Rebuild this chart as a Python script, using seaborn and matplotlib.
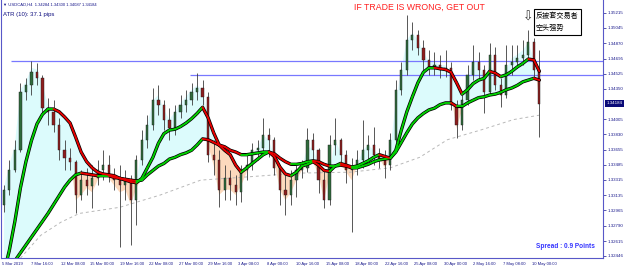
import numpy as np
import pandas as pd
import matplotlib
matplotlib.use("Agg")
import matplotlib.pyplot as plt
import matplotlib.transforms as mtransforms
from matplotlib.collections import LineCollection
from matplotlib.patches import Rectangle
import seaborn as sns

# ---------------- data (USDCAD H4, one candle per 3 H4 bars) ----------------
opens = [1.3303, 1.3320, 1.3342, 1.3365, 1.3431, 1.3439, 1.3454, 1.3447, 1.3413, 1.3409,
         1.3394, 1.3365, 1.3356, 1.3352, 1.3314, 1.3331, 1.3324, 1.3333, 1.3342, 1.3348,
         1.3337, 1.3331, 1.3325, 1.3331, 1.3308, 1.3354, 1.3377, 1.3394, 1.3422, 1.3417,
         1.3400, 1.3390, 1.3409, 1.3417, 1.3422, 1.3431, 1.3436, 1.3426, 1.3360, 1.3354,
         1.3320, 1.3333, 1.3325, 1.3317, 1.3342, 1.3348, 1.3365, 1.3368, 1.3382, 1.3377,
         1.3345, 1.3320, 1.3314, 1.3331, 1.3342, 1.3345, 1.3377, 1.3365, 1.3331, 1.3308,
         1.3371, 1.3377, 1.3360, 1.3342, 1.3345, 1.3354, 1.3365, 1.3371, 1.3360, 1.3354,
         1.3348, 1.3377, 1.3434, 1.3457, 1.3491, 1.3496, 1.3482, 1.3468, 1.3459, 1.3462,
         1.3457, 1.3459, 1.3417, 1.3394, 1.3422, 1.3451, 1.3466, 1.3457, 1.3431, 1.3474,
         1.3439, 1.3428, 1.3462, 1.3466, 1.3470, 1.3474, 1.3488, 1.3457]
closes = [1.3320, 1.3342, 1.3365, 1.3431, 1.3439, 1.3454, 1.3447, 1.3413, 1.3409, 1.3394,
          1.3365, 1.3356, 1.3352, 1.3314, 1.3331, 1.3324, 1.3333, 1.3342, 1.3348, 1.3337,
          1.3331, 1.3325, 1.3331, 1.3308, 1.3354, 1.3377, 1.3394, 1.3422, 1.3417, 1.3400,
          1.3390, 1.3409, 1.3417, 1.3422, 1.3431, 1.3436, 1.3426, 1.3360, 1.3354, 1.3320,
          1.3333, 1.3325, 1.3317, 1.3342, 1.3348, 1.3365, 1.3368, 1.3382, 1.3377, 1.3345,
          1.3320, 1.3314, 1.3331, 1.3342, 1.3345, 1.3377, 1.3365, 1.3331, 1.3308, 1.3371,
          1.3377, 1.3360, 1.3342, 1.3345, 1.3354, 1.3365, 1.3371, 1.3360, 1.3354, 1.3348,
          1.3377, 1.3434, 1.3457, 1.3491, 1.3496, 1.3482, 1.3468, 1.3459, 1.3462, 1.3457,
          1.3459, 1.3417, 1.3394, 1.3422, 1.3451, 1.3466, 1.3457, 1.3431, 1.3474, 1.3439,
          1.3428, 1.3462, 1.3466, 1.3470, 1.3474, 1.3488, 1.3457, 1.3418]
highs = [1.3325, 1.3354, 1.3377, 1.3442, 1.3447, 1.3467, 1.3464, 1.3451, 1.3425, 1.3422,
         1.3402, 1.3377, 1.3368, 1.3354, 1.3342, 1.3345, 1.3348, 1.3354, 1.3365, 1.3360,
         1.3345, 1.3348, 1.3342, 1.3337, 1.3360, 1.3388, 1.3405, 1.3436, 1.3439, 1.3422,
         1.3413, 1.3417, 1.3428, 1.3434, 1.3442, 1.3453, 1.3445, 1.3431, 1.3377, 1.3365,
         1.3348, 1.3342, 1.3337, 1.3348, 1.3360, 1.3373, 1.3377, 1.3402, 1.3390, 1.3380,
         1.3348, 1.3337, 1.3342, 1.3348, 1.3354, 1.3390, 1.3385, 1.3368, 1.3342, 1.3382,
         1.3402, 1.3379, 1.3365, 1.3356, 1.3365, 1.3400, 1.3382, 1.3392, 1.3368, 1.3365,
         1.3385, 1.3445, 1.3466, 1.3519, 1.3511, 1.3502, 1.3491, 1.3479, 1.3477, 1.3474,
         1.3479, 1.3466, 1.3422, 1.3428, 1.3462, 1.3485, 1.3477, 1.3462, 1.3487, 1.3483,
         1.3447, 1.3485, 1.3485, 1.3485, 1.3491, 1.3502, 1.3493, 1.3479]
lows = [1.3295, 1.3314, 1.3340, 1.3363, 1.3422, 1.3428, 1.3439, 1.3405, 1.3394, 1.3386,
        1.3354, 1.3342, 1.3342, 1.3293, 1.3308, 1.3314, 1.3299, 1.3325, 1.3331, 1.3329,
        1.3320, 1.3255, 1.3308, 1.3257, 1.3280, 1.3348, 1.3368, 1.3388, 1.3405, 1.3388,
        1.3377, 1.3382, 1.3402, 1.3409, 1.3417, 1.3422, 1.3417, 1.3352, 1.3337, 1.3300,
        1.3308, 1.3308, 1.3303, 1.3306, 1.3331, 1.3342, 1.3354, 1.3363, 1.3357, 1.3337,
        1.3303, 1.3291, 1.3303, 1.3312, 1.3333, 1.3340, 1.3354, 1.3316, 1.3299, 1.3303,
        1.3360, 1.3352, 1.3328, 1.3272, 1.3337, 1.3345, 1.3354, 1.3348, 1.3345, 1.3333,
        1.3342, 1.3374, 1.3428, 1.3451, 1.3479, 1.3474, 1.3457, 1.3451, 1.3451, 1.3447,
        1.3449, 1.3411, 1.3379, 1.3388, 1.3417, 1.3445, 1.3445, 1.3407, 1.3428, 1.3434,
        1.3414, 1.3425, 1.3451, 1.3459, 1.3462, 1.3468, 1.3447, 1.3380]
# fastest MA (outer edge of the coloured cloud)
ma_trigger = [1.3322, 1.3348, 1.3371, 1.3434, 1.3443, 1.3459, 1.3457, 1.3439, 1.3417, 1.3405,
              1.3382, 1.3365, 1.3356, 1.3308, 1.3314, 1.3322, 1.3317, 1.3331, 1.3338, 1.3333,
              1.3325, 1.3317, 1.3320, 1.3303, 1.3322, 1.3368, 1.3394, 1.3422, 1.3428, 1.3411,
              1.3400, 1.3409, 1.3419, 1.3426, 1.3434, 1.3439, 1.3434, 1.3371, 1.3348, 1.3314,
              1.3320, 1.3320, 1.3314, 1.3325, 1.3340, 1.3360, 1.3368, 1.3382, 1.3377, 1.3352,
              1.3320, 1.3308, 1.3317, 1.3331, 1.3342, 1.3368, 1.3368, 1.3337, 1.3308, 1.3337,
              1.3377, 1.3363, 1.3340, 1.3331, 1.3348, 1.3365, 1.3371, 1.3365, 1.3356, 1.3345,
              1.3365, 1.3422, 1.3457, 1.3491, 1.3499, 1.3491, 1.3477, 1.3466, 1.3466, 1.3462,
              1.3462, 1.3428, 1.3390, 1.3411, 1.3445, 1.3468, 1.3464, 1.3436, 1.3462, 1.3454,
              1.3434, 1.3457, 1.3470, 1.3474, 1.3479, 1.3488, 1.3468, 1.3422]
ma_fast = [1.3225, 1.3251, 1.3284, 1.3322, 1.3352, 1.3376, 1.3395, 1.3406, 1.3412, 1.3412,
           1.3409, 1.3403, 1.3396, 1.3380, 1.3363, 1.3352, 1.3345, 1.3340, 1.3338, 1.3337,
           1.3336, 1.3333, 1.3331, 1.3329, 1.3328, 1.3333, 1.3345, 1.3357, 1.3373, 1.3384,
           1.3388, 1.3389, 1.3392, 1.3396, 1.3401, 1.3407, 1.3414, 1.3402, 1.3385, 1.3371,
           1.3365, 1.3360, 1.3348, 1.3340, 1.3345, 1.3350, 1.3355, 1.3360, 1.3363, 1.3358,
           1.3346, 1.3338, 1.3336, 1.3340, 1.3347, 1.3349, 1.3352, 1.3348, 1.3342, 1.3341,
           1.3347, 1.3350, 1.3348, 1.3346, 1.3347, 1.3350, 1.3353, 1.3357, 1.3360, 1.3358,
           1.3356, 1.3365, 1.3388, 1.3409, 1.3426, 1.3442, 1.3454, 1.3459, 1.3459, 1.3458,
           1.3457, 1.3454, 1.3442, 1.3429, 1.3434, 1.3441, 1.3445, 1.3447, 1.3455, 1.3453,
           1.3449, 1.3451, 1.3455, 1.3460, 1.3464, 1.3469, 1.3468, 1.3455]
ma_slow = [1.3222, 1.3230, 1.3239, 1.3248, 1.3257, 1.3266, 1.3275, 1.3284, 1.3293, 1.3303,
           1.3313, 1.3323, 1.3331, 1.3337, 1.3339, 1.3338, 1.3337, 1.3336, 1.3336, 1.3336,
           1.3334, 1.3333, 1.3332, 1.3331, 1.3330, 1.3331, 1.3337, 1.3342, 1.3347, 1.3350,
           1.3355, 1.3357, 1.3360, 1.3362, 1.3365, 1.3371, 1.3378, 1.3377, 1.3374, 1.3371,
           1.3369, 1.3365, 1.3363, 1.3360, 1.3360, 1.3361, 1.3362, 1.3363, 1.3363, 1.3361,
           1.3356, 1.3352, 1.3349, 1.3349, 1.3350, 1.3352, 1.3353, 1.3352, 1.3349, 1.3347,
           1.3347, 1.3348, 1.3347, 1.3345, 1.3345, 1.3347, 1.3349, 1.3352, 1.3354, 1.3355,
           1.3356, 1.3363, 1.3374, 1.3385, 1.3395, 1.3402, 1.3407, 1.3411, 1.3413, 1.3417,
           1.3419, 1.3419, 1.3415, 1.3415, 1.3419, 1.3422, 1.3425, 1.3426, 1.3428, 1.3429,
           1.3431, 1.3434, 1.3436, 1.3439, 1.3443, 1.3445, 1.3447, 1.3445]
ma_long_bars = [10, 21, 32, 42, 64, 86, 108, 129, 162, 189, 211, 227, 242, 260, 278, 292]
ma_long = [1.3242, 1.3268, 1.3283, 1.3293, 1.3300, 1.3314, 1.3331, 1.3334, 1.3339,
           1.3340, 1.3345, 1.3357, 1.3377, 1.3388, 1.3400, 1.3405]
level_prices = [1.34668, 1.34508]
level_start_bars = [5, 102]
date_labels = ["5 Mar 2019", "7 Mar 16:00", "12 Mar 08:00", "15 Mar 00:00", "19 Mar 16:00",
               "22 Mar 08:00", "27 Mar 00:00", "29 Mar 16:00", "3 Apr 08:00", "8 Apr 00:00",
               "10 Apr 16:00", "15 Apr 08:00", "18 Apr 00:00", "22 Apr 16:00", "25 Apr 08:00",
               "30 Apr 00:00", "2 May 16:00", "7 May 08:00", "10 May 00:00"]
price_ticks = [1.35215, 1.35045, 1.34870, 1.34695, 1.34525, 1.34350, 1.34005, 1.33830,
               1.33655, 1.33485, 1.33315, 1.33135, 1.32965, 1.32790, 1.32615, 1.32446]
last_price = 1.34184
header = "\u25bc USDCAD,H4  1.34284 1.34300 1.34087 1.34184"

# ---------------- style ----------------
sns.set_style("white")
plt.rcParams['font.family'] = ['Liberation Sans', 'DejaVu Sans']
NAVY = "#16168a"
AXC = "#5858c8"

W, H = 625, 267
fig = plt.figure(figsize=(W / 100, H / 100), dpi=100)
ax = fig.add_axes([1 / W, 9 / H, 602 / W, 258 / H])

px_per_bar = 530 / 288
xmin = -1 / px_per_bar
xmax = xmin + 602 / px_per_bar
ax.set_xlim(xmin, xmax)
ax.set_ylim(1.32422, 1.35363)

o = np.array(opens); c = np.array(closes); h = np.array(highs); l = np.array(lows)
f0 = np.array(ma_trigger); f1 = np.array(ma_fast); f2 = np.array(ma_slow)
x = np.arange(len(c)) * 3 + 1

# cloud fills
upper = np.maximum(f0, f1)
ax.fill_between(x, f2, upper, where=upper > f2, interpolate=True,
                color="#dcfbfc", lw=0, zorder=1)
base = np.minimum(f1, f2)
lower = np.minimum(f0, f1)
ax.fill_between(x, base, lower, where=lower < base, interpolate=True,
                color="#fcd9bd", lw=0, zorder=1)

# long MA (dashed gray)
sns.lineplot(x=ma_long_bars, y=ma_long, ax=ax, color="#b8b8b8", lw=0.7,
             linestyle=(0, (3, 3)), zorder=2)

# horizontal levels
for lv, sb in zip(level_prices, level_start_bars):
    ax.hlines(lv, sb, xmax, color="#7878ff", lw=0.9, zorder=2)

# candles
up = c >= o
ax.vlines(x, l, h, color="#3c3c3c", lw=0.6, zorder=3)
ax.bar(x[up], (c - o)[up], bottom=o[up], width=1.2, color="#2f6b3c",
       edgecolor="#1c1c1c", lw=0.3, zorder=4)
ax.bar(x[~up], (c - o)[~up], bottom=o[~up], width=1.2, color="#8e1e1e",
       edgecolor="#1c1c1c", lw=0.3, zorder=4)

# coloured MA lines
for ma in (f2, f1):
    sns.lineplot(x=x, y=ma, ax=ax, color="black", lw=2.4, zorder=5)
    pts = np.column_stack([x, ma])
    segs = np.stack([pts[:-1], pts[1:]], axis=1)
    cols = np.where(np.diff(ma) >= 0, "#00d000", "#e80000")
    lc = LineCollection(segs, colors=cols, linewidths=1.35, capstyle="round", zorder=6)
    ax.add_collection(lc)

# axes styling
ax.spines["top"].set_visible(False)
for s in ("left", "right", "bottom"):
    ax.spines[s].set_color(AXC)
    ax.spines[s].set_linewidth(0.8)
ax.yaxis.tick_right()
ax.set_yticks(price_ticks)
ax.set_yticklabels([f"{v:.5f}" for v in price_ticks])
ax.tick_params(axis="y", labelsize=3.2, colors=NAVY, length=2, width=0.5, pad=1.5,
               direction="out")
ax.set_xticks(np.arange(len(date_labels)) * 16)
ax.set_xticklabels(date_labels)
ax.tick_params(axis="x", labelsize=3.0, colors=NAVY, length=2, width=0.5, pad=0.8,
               direction="out")
for lbl in ax.get_xticklabels():
    lbl.set_ha("left")
ax.set_xlabel(""); ax.set_ylabel("")
ax.grid(False)

# current price highlight
tr = mtransforms.blended_transform_factory(ax.transAxes, ax.transData)
ax.text(1.0 + 3.5 / 602, last_price, f"{last_price:.5f}", transform=tr, ha="left",
        va="center", fontsize=3.2, color="white",
        bbox=dict(boxstyle="square,pad=0.25", fc="#0a0a78", ec="none"), zorder=10,
        clip_on=False)

def fx(p):
    return p / W

def fy(p):
    return 1 - p / H

fig.text(fx(3), fy(5), header, fontsize=3.0, color=NAVY, va="center", ha="left",
         family=["Liberation Sans", "DejaVu Sans"])
fig.text(fx(3), fy(14.5), "ATR (10): 37.1 pips", fontsize=4.3, color="#101080",
         va="center", ha="left")
fig.text(fx(354), fy(7.5), "IF TRADE IS WRONG, GET OUT", fontsize=6.3, color="#ff2020",
         va="center", ha="left")
fig.text(fx(528.5), fy(17), "\u21e9", fontsize=9, color="#333333", ha="center",
         va="center", family=["DejaVu Sans"])
fig.patches.append(Rectangle((fx(534), fy(35)), 47 / W, 26 / H, transform=fig.transFigure,
                             fc="white", ec="black", lw=0.8, zorder=20))
fig.text(fx(536), fy(16), "反被套交易者", fontsize=5.1, color="black", ha="left",
         va="center", family=["Noto Sans CJK SC"], zorder=21)
fig.text(fx(536), fy(27.5), "空头强势", fontsize=5.1, color="black", ha="left",
         va="center", family=["Noto Sans CJK SC"], zorder=21)
fig.text(fx(536), fy(246), "Spread : 0.9 Points", fontsize=4.7, color="#3535ff",
         fontweight="bold", ha="left", va="center")

fig.savefig("out.png", dpi=100)
